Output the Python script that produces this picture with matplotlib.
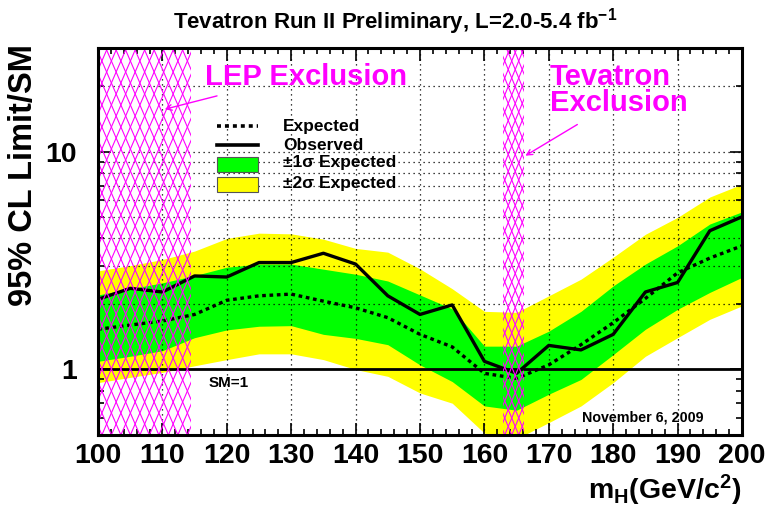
import numpy as np
import matplotlib
matplotlib.use('Agg')
import matplotlib.pyplot as plt
from matplotlib.patches import Rectangle
from matplotlib.ticker import FixedLocator, NullFormatter

plt.rcParams['font.family'] = ['Liberation Sans', 'DejaVu Sans']
plt.rcParams['font.weight'] = 'bold'
plt.rcParams['mathtext.fontset'] = 'custom'
plt.rcParams['mathtext.rm'] = 'Liberation Sans:bold'
plt.rcParams['mathtext.it'] = 'Liberation Sans:bold'
plt.rcParams['mathtext.bf'] = 'Liberation Sans:bold'

# Higgs mass points (GeV/c^2)
mass = [100, 105, 110, 115, 120, 125, 130, 135, 140, 145, 150,
        155, 160, 165, 170, 175, 180, 185, 190, 195, 200]
observed = [2.10, 2.36, 2.27, 2.69, 2.66, 3.10, 3.10, 3.42, 3.05, 2.18, 1.79,
            1.98, 1.09, 0.96, 1.29, 1.23, 1.45, 2.27, 2.51, 4.34, 5.03]
expected = [1.53, 1.60, 1.67, 1.79, 2.08, 2.18, 2.22, 2.06, 1.92, 1.73, 1.45,
            1.27, 0.96, 0.91, 1.05, 1.30, 1.64, 2.12, 2.78, 3.25, 3.70]
sig1_up = [2.20, 2.35, 2.50, 2.70, 2.95, 3.05, 3.05, 2.89, 2.74, 2.55, 2.20,
           1.90, 1.28, 1.28, 1.50, 1.85, 2.42, 3.05, 3.70, 4.66, 5.30]
sig1_dn = [1.09, 1.15, 1.22, 1.40, 1.52, 1.58, 1.59, 1.45, 1.39, 1.30, 1.05,
           0.88, 0.68, 0.65, 0.77, 0.90, 1.17, 1.53, 1.89, 2.26, 2.65]
sig2_up = [2.84, 3.00, 3.20, 3.50, 4.00, 4.23, 4.20, 3.97, 3.60, 3.46, 2.90,
           2.35, 1.85, 1.83, 2.18, 2.60, 3.28, 4.18, 5.00, 6.20, 7.10]
sig2_dn = [0.87, 0.92, 0.97, 1.04, 1.11, 1.18, 1.18, 1.11, 1.00, 0.93, 0.78,
           0.70, 0.51, 0.48, 0.57, 0.68, 0.87, 1.15, 1.40, 1.70, 1.96]

lep_excl = (100, 114.4)
tev_excl = (162.9, 166.2)

fig = plt.figure(figsize=(7.68, 5.09), dpi=100)
ax = fig.add_axes([98/768, 1-435/509, 644/768, 387/509])
ax.set_yscale('log')
ax.set_xlim(100, 200)
ax.set_ylim(0.5, 30)

ax.fill_between(mass, sig2_dn, sig2_up, color='#ffff00', lw=0, zorder=1)
ax.fill_between(mass, sig1_dn, sig1_up, color='#00ff00', lw=0, zorder=2)

# grid (drawn over the bands)
for xv in range(110, 200, 10):
    ax.axvline(xv, color='black', ls=(0, (1, 3)), lw=0.9, zorder=3)
for yv in [2, 3, 4, 5, 6, 7, 8, 9, 10, 20]:
    ax.axhline(yv, color='black', ls=(0, (1, 3)), lw=0.9, zorder=3)

ax.axhline(1, color='black', lw=2, zorder=4)
ax.plot(mass, expected, color='black', lw=2.4, ls=(0, (1.1, 1.1)), zorder=5)
ax.plot(mass, observed, color='black', lw=2.4, zorder=6)


def crosshatch(x0, x1, w_px, h_px):
    # diamond cross hatch, x in data / y in axes coords
    pos = ax.get_position()
    ax_w = pos.width * fig.get_figwidth() * fig.dpi
    ax_h = pos.height * fig.get_figheight() * fig.dpi
    px_per_x = ax_w / 100.0
    slope = (w_px / h_px) * ax_h / px_per_x
    step = w_px / px_per_x
    trans = ax.get_xaxis_transform()
    clip = Rectangle((x0, 0), x1 - x0, 1, transform=trans, fill=False, lw=0)
    ax.add_patch(clip)
    for c in np.arange(x0 - slope, x1 + slope, step):
        for ln in (ax.plot([c, c + slope], [0, 1], transform=trans, color='#ff00ff', lw=0.8, zorder=7),
                   ax.plot([c, c - slope], [0, 1], transform=trans, color='#ff00ff', lw=0.8, zorder=7)):
            ln[0].set_clip_path(clip)


crosshatch(lep_excl[0], lep_excl[1], 9.5, 22)
crosshatch(tev_excl[0], tev_excl[1], 7, 17)

ax.text(117.1, 0.134, 'SM=1', transform=ax.get_xaxis_transform(), fontsize=11, ha='left', va='center')
ax.text(0.94, 0.044, 'November 6, 2009', transform=ax.transAxes, fontsize=10.3, ha='right', va='center')

ax.text(0.166, 0.925, 'LEP Exclusion', transform=ax.transAxes, color='#ff00ff', fontsize=21, ha='left', va='center')
ax.text(0.702, 0.891, 'Tevatron\nExclusion', transform=ax.transAxes, color='#ff00ff', fontsize=21,
        ha='left', va='center', linespacing=0.9)
ax.annotate('', xy=(0.0995, 0.84), xytext=(0.189, 0.878), xycoords='axes fraction',
            arrowprops=dict(arrowstyle='->', color='#ff00ff', lw=1.0))
ax.annotate('', xy=(0.6599, 0.718), xytext=(0.748, 0.806), xycoords='axes fraction',
            arrowprops=dict(arrowstyle='->', color='#ff00ff', lw=1.0))

# legend drawn by hand
ax.plot([0.185, 0.248], [0.798, 0.798], transform=ax.transAxes, color='black', lw=2.6, ls=(0, (1.1, 1.1)))
ax.plot([0.185, 0.248], [0.749, 0.749], transform=ax.transAxes, color='black', lw=2.6)
ax.add_patch(Rectangle((0.185, 0.680), 0.063, 0.039, transform=ax.transAxes,
                       facecolor='#00ff00', edgecolor='#555555', lw=0.8, zorder=8))
ax.add_patch(Rectangle((0.185, 0.628), 0.063, 0.039, transform=ax.transAxes,
                       facecolor='#ffff00', edgecolor='#555555', lw=0.8, zorder=8))
for yy, lab in [(0.798, 'Expected'), (0.749, 'Observed'),
                (0.703, '±1σ Expected'), (0.651, '±2σ Expected')]:
    ax.text(0.287, yy, lab, transform=ax.transAxes, fontsize=12.5, ha='left', va='center', zorder=9)

ax.xaxis.set_major_locator(FixedLocator(range(100, 201, 10)))
ax.xaxis.set_minor_locator(FixedLocator(range(100, 201, 2)))
ax.yaxis.set_major_locator(FixedLocator([1, 10]))
ax.yaxis.set_minor_locator(FixedLocator([0.5, 0.6, 0.7, 0.8, 0.9, 2, 3, 4, 5, 6, 7, 8, 9, 20, 30]))
ax.yaxis.set_minor_formatter(NullFormatter())
ax.set_yticklabels(['1', '10'])
ax.tick_params(which='both', direction='in', top=True, right=True, width=1.2, labelsize=20.5)
ax.tick_params(which='major', length=9)
ax.tick_params(which='minor', length=4.5)
ax.tick_params(axis='x', pad=6)
ax.tick_params(axis='y', pad=15)
for sp in ax.spines.values():
    sp.set_linewidth(2.2)
    sp.set_zorder(10)

fig.text(0.515, 1-22/509, 'Tevatron Run II Preliminary, L=2.0-5.4 fb$^{-1}$', fontsize=16,
         ha='center', va='center')
fig.text(24/768, 1-175/509, '95% CL Limit/SM', rotation=90, fontsize=23.5, ha='center', va='center')
fig.text(741/768, 1-490/509, r'm$_{\mathrm{H}}$(GeV/c$^{2}$)', fontsize=20.5, ha='right', va='center')

fig.savefig('out.png', dpi=100)
